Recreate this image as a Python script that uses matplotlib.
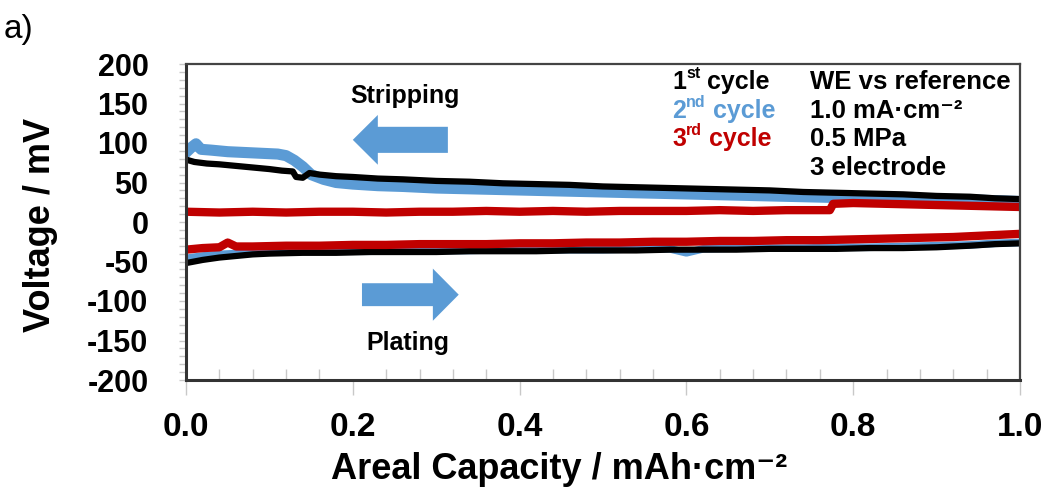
import matplotlib
matplotlib.use("Agg")
import matplotlib.pyplot as plt
from matplotlib.patches import FancyArrow
from matplotlib.ticker import MultipleLocator

plt.rcParams['font.family'] = ['Liberation Sans', 'DejaVu Sans']

# ---- data ----
c1_strip_x = [0.000, 0.010, 0.025, 0.040, 0.060, 0.080, 0.100, 0.115, 0.128, 0.132, 0.140, 0.148,
              0.160, 0.180, 0.200, 0.230, 0.260, 0.300, 0.340, 0.380, 0.420, 0.460, 0.500, 0.540,
              0.580, 0.620, 0.660, 0.700, 0.740, 0.780, 0.820, 0.860, 0.900, 0.940, 0.970, 1.000]
c1_strip_y = [79, 76, 74, 73, 71, 69, 67, 65, 64, 57, 56, 62,
              60, 58, 57, 55, 54, 52, 51, 49, 48, 47, 45, 44,
              43, 42, 41, 40, 38, 37, 36, 35, 33, 32, 30, 29]

c2_strip_x = [0.000, 0.006, 0.012, 0.018, 0.030, 0.050, 0.070, 0.090, 0.110, 0.120, 0.130, 0.140,
              0.150, 0.165, 0.180, 0.200, 0.230, 0.260, 0.300, 0.340, 0.380, 0.420, 0.460, 0.500,
              0.540, 0.580, 0.620, 0.660, 0.700, 0.740, 0.780, 0.820, 0.860, 0.900, 0.940, 0.970, 1.000]
c2_strip_y = [88, 94, 99, 92, 91, 89, 88, 87, 86, 84, 78, 70,
              60, 54, 50, 48, 46, 45, 43, 42, 41, 40, 39, 38,
              37, 36, 35, 34, 33, 32, 31, 30, 29, 28, 28, 27, 26]

c3_strip_x = [0.00, 0.04, 0.08, 0.12, 0.16, 0.20, 0.24, 0.28, 0.32, 0.36, 0.40, 0.44, 0.48, 0.52,
              0.56, 0.60, 0.64, 0.68, 0.72, 0.76, 0.772, 0.776, 0.80, 0.84, 0.88, 0.92, 0.96, 1.00]
c3_strip_y = [13, 12, 13, 12, 13, 13, 12, 13, 13, 14, 13, 14, 13, 14,
              14, 14, 15, 14, 15, 15, 15, 23, 24, 23, 22, 21, 20, 19]

c1_plate_x = [0.00, 0.02, 0.04, 0.06, 0.08, 0.10, 0.14, 0.18, 0.22, 0.26, 0.30, 0.34, 0.38, 0.42,
              0.46, 0.50, 0.54, 0.58, 0.62, 0.66, 0.70, 0.74, 0.78, 0.82, 0.86, 0.90, 0.94, 0.97, 1.00]
c1_plate_y = [-52, -48, -45, -43, -41, -40, -39, -39, -38, -38, -38, -37, -37, -37,
              -36, -36, -36, -35, -35, -35, -34, -34, -34, -33, -33, -32, -30, -28, -27]

c2_plate_x = [0.00, 0.02, 0.04, 0.06, 0.08, 0.10, 0.14, 0.18, 0.22, 0.26, 0.30, 0.34, 0.38, 0.42,
              0.46, 0.50, 0.54, 0.58, 0.60, 0.62, 0.66, 0.70, 0.74, 0.78, 0.82, 0.86, 0.90, 0.94, 0.97, 1.00]
c2_plate_y = [-46, -43, -41, -40, -39, -38, -37, -37, -37, -36, -36, -36, -35, -35,
              -35, -35, -34, -34, -39, -34, -33, -33, -33, -32, -32, -31, -30, -29, -27, -26]

c3_plate_x = [0.00, 0.02, 0.04, 0.05, 0.06, 0.08, 0.12, 0.16, 0.20, 0.24, 0.28, 0.32, 0.36, 0.40,
              0.44, 0.48, 0.52, 0.56, 0.60, 0.64, 0.68, 0.72, 0.76, 0.80, 0.84, 0.88, 0.92, 0.96, 1.00]
c3_plate_y = [-35, -33, -32, -26, -31, -31, -30, -30, -29, -29, -28, -28, -28, -27,
              -27, -26, -26, -25, -25, -24, -24, -23, -23, -22, -21, -20, -19, -17, -15]

x_ticks = [0.0, 0.2, 0.4, 0.6, 0.8, 1.0]
x_tick_labels = ['0.0', '0.2', '0.4', '0.6', '0.8', '1.0']
y_ticks = [200, 150, 100, 50, 0, -50, -100, -150, -200]
y_tick_labels = ['200', '150', '100', '50', '0', '-50', '-100', '-150', '-200']

cycle_nums = ['1', '2', '3']
cycle_sups = ['st', 'nd', 'rd']
conditions = ['WE vs reference', '1.0 mA·cm⁻²', '0.5 MPa', '3 electrode']

BLACK = '#000000'
BLUE = '#5B9BD5'
RED = '#C00000'
ARROW = '#5B9BD5'
cycle_colors = [BLACK, BLUE, RED]

fig = plt.figure(figsize=(10.48, 4.93), dpi=100)
ax = fig.add_axes([186 / 1048, 1 - 380 / 493, (1020 - 186) / 1048, (380 - 64) / 493])

# plating branch (lower)
ax.plot(c2_plate_x, c2_plate_y, color=BLUE, lw=5.5, solid_joinstyle='round')
ax.plot(c1_plate_x, c1_plate_y, color=BLACK, lw=4.5, solid_joinstyle='round')
ax.plot(c3_plate_x, c3_plate_y, color=RED, lw=6, solid_joinstyle='round')
# stripping branch (upper)
ax.plot(c2_strip_x, c2_strip_y, color=BLUE, lw=8, solid_joinstyle='round')
ax.plot(c1_strip_x, c1_strip_y, color=BLACK, lw=4.5, solid_joinstyle='round')
ax.plot(c3_strip_x, c3_strip_y, color=RED, lw=6, solid_joinstyle='round')

ax.set_xlim(0, 1.0)
ax.set_ylim(-200, 200)

ax.set_xticks(x_ticks)
ax.set_xticklabels(x_tick_labels, fontsize=24, fontweight='bold')
ax.xaxis.set_minor_locator(MultipleLocator(0.04))
ax.tick_params(axis='x', which='major', direction='out', length=11, width=1, color='#c8c8c8', pad=12)
ax.tick_params(axis='x', which='minor', direction='in', length=8, width=1, color='#c8c8c8')

ax.set_yticks(y_ticks)
ax.set_yticklabels(y_tick_labels, fontsize=22, fontweight='bold')
ax.yaxis.set_minor_locator(MultipleLocator(10))
ax.tick_params(axis='y', which='both', direction='out', length=5, width=1, color='#c8c8c8', pad=22)

for side in ['left', 'bottom']:
    ax.spines[side].set_linewidth(2.2)
    ax.spines[side].set_color('#333333')
for side in ['top', 'right']:
    ax.spines[side].set_linewidth(1.6)
    ax.spines[side].set_color('#444444')

ax.set_xlabel('Areal Capacity / mAh·cm⁻²', fontsize=26, fontweight='bold')
ax.xaxis.set_label_coords(0.447, -0.228)
ax.set_ylabel('Voltage / mV', fontsize=26, fontweight='bold')
ax.yaxis.set_label_coords(-0.153, 0.49)

# arrows
ax.add_patch(FancyArrow(0.314, 104, -0.114, 0, width=33, head_width=63, head_length=0.030,
                        length_includes_head=True, color=ARROW, lw=0))
ax.add_patch(FancyArrow(0.211, -92, 0.116, 0, width=29, head_width=66, head_length=0.031,
                        length_includes_head=True, color=ARROW, lw=0))
ax.text(0.263, 0.877, 'Stripping', transform=ax.transAxes, ha='center', va='baseline',
        fontsize=18, fontweight='bold')
ax.text(0.266, 0.095, 'Plating', transform=ax.transAxes, ha='center', va='baseline',
        fontsize=18, fontweight='bold')

# legend-like annotation
lx1, lx2 = 0.583, 0.748
rows = [0.921, 0.829, 0.741, 0.649]
for i in range(3):
    c = cycle_colors[i]
    t_num = ax.text(lx1, rows[i], cycle_nums[i], transform=ax.transAxes, va='baseline',
                    fontsize=18, fontweight='bold', color=c)
    t_sup = ax.annotate(cycle_sups[i], xy=(1.0, 0.55), xycoords=t_num, va='bottom', ha='left',
                        fontsize=11.5, fontweight='bold', color=c)
    ax.annotate(' cycle', xy=(1.0, 0.0), xycoords=(t_sup, t_num), va='bottom', ha='left',
                fontsize=18, fontweight='bold', color=c)
for i, s in enumerate(conditions):
    ax.text(lx2, rows[i], s, transform=ax.transAxes, va='baseline',
            fontsize=18.5, fontweight='bold')

fig.text(4 / 1048, 1 - 38 / 493, 'a)', fontsize=24, ha='left', va='baseline')

fig.savefig('out.png', dpi=100)
